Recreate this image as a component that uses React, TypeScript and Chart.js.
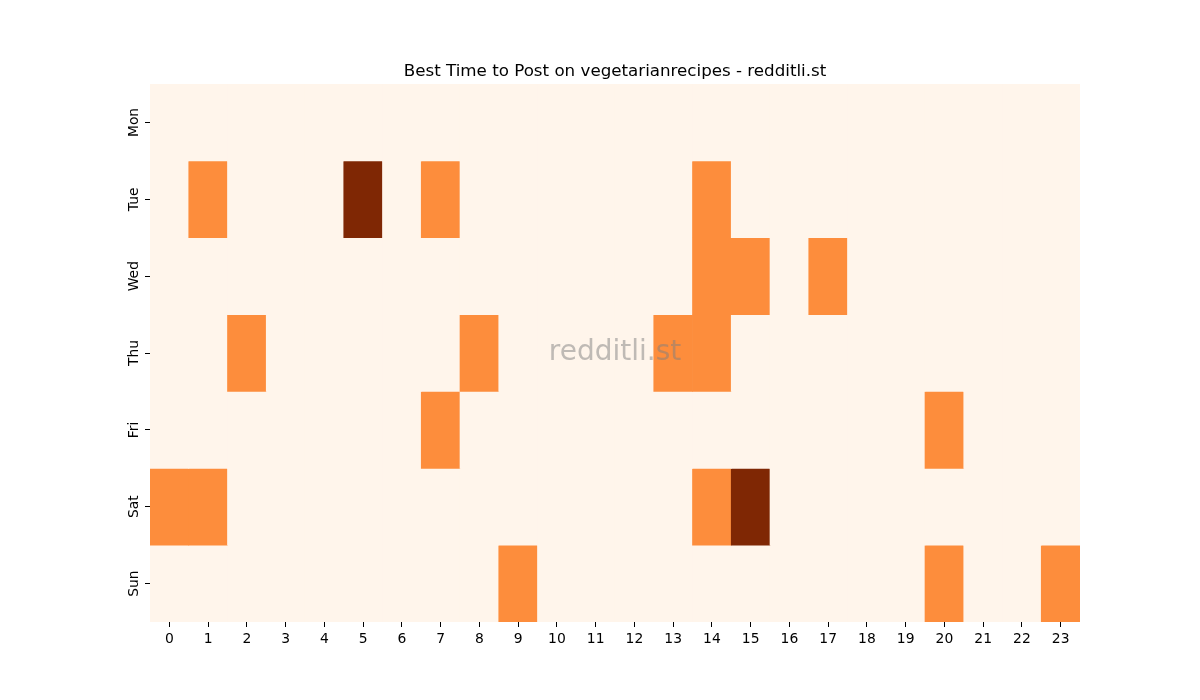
import React, { useEffect, useRef } from "react";
import { Chart, registerables } from "chart.js";

Chart.register(...registerables);

const hours = ["0","1","2","3","4","5","6","7","8","9","10","11","12","13","14","15","16","17","18","19","20","21","22","23"];
const days = ["Mon", "Tue", "Wed", "Thu", "Fri", "Sat", "Sun"];

const mon = [0,0,0,0,0,0,0,0,0,0,0,0,0,0,0,0,0,0,0,0,0,0,0,0];
const tue = [0,1,0,0,0,2,0,1,0,0,0,0,0,0,1,0,0,0,0,0,0,0,0,0];
const wed = [0,0,0,0,0,0,0,0,0,0,0,0,0,0,1,1,0,1,0,0,0,0,0,0];
const thu = [0,0,1,0,0,0,0,0,1,0,0,0,0,1,1,0,0,0,0,0,0,0,0,0];
const fri = [0,0,0,0,0,0,0,1,0,0,0,0,0,0,0,0,0,0,0,0,1,0,0,0];
const sat = [1,1,0,0,0,0,0,0,0,0,0,0,0,0,1,2,0,0,0,0,0,0,0,0];
const sun = [0,0,0,0,0,0,0,0,0,1,0,0,0,0,0,0,0,0,0,0,1,0,0,1];

const dayValues = [mon, tue, wed, thu, fri, sat, sun];
const palette = ["#fff5eb", "#fd8d3c", "#7f2704"];

const FONT = "'DejaVu Sans', sans-serif";

const watermark = {
  id: "watermark",
  afterDatasetsDraw(chart: any) {
    const { ctx, chartArea } = chart;
    ctx.save();
    ctx.font = `28px ${FONT}`;
    ctx.fillStyle = "rgba(128,128,128,0.5)";
    ctx.textAlign = "center";
    ctx.textBaseline = "middle";
    ctx.fillText("redditli.st", (chartArea.left + chartArea.right) / 2, (chartArea.top + chartArea.bottom) / 2);
    ctx.restore();
  },
};

export default function App() {
  const ref = useRef<HTMLCanvasElement>(null);
  useEffect(() => {
    const datasets = days.map((d, i) => ({
      label: d,
      data: hours.map(() => 1),
      backgroundColor: (c: any) => palette[dayValues[i][c.dataIndex]],
      borderWidth: 0,
      categoryPercentage: 1,
      barPercentage: 1,
    }));
    const chart = new Chart(ref.current!, {
      type: "bar",
      data: { labels: hours, datasets },
      options: {
        animation: false,
        responsive: false,
        maintainAspectRatio: false,
        layout: { padding: { left: 30, right: 0, top: 0, bottom: 0 } },
        plugins: {
          legend: { display: false },
          tooltip: { enabled: false },
          title: {
            display: true,
            text: "Best Time to Post on vegetarianrecipes - redditli.st",
            color: "#000",
            font: { family: FONT, size: 16.7, weight: "normal" },
            padding: { top: 62, bottom: 2 },
          },
        },
        scales: {
          x: {
            stacked: true,
            grid: { offset: false, drawOnChartArea: false, drawTicks: true, tickLength: 5, color: "#000" },
            border: { display: false },
            ticks: { color: "#000", font: { family: FONT, size: 13.9 }, padding: 4, maxRotation: 0, autoSkip: false },
            afterFit: (s: any) => { s.height = 78; },
          },
          y: {
            type: "linear",
            stacked: true,
            min: 0,
            max: 7,
            reverse: true,
            grid: { drawOnChartArea: false, drawTicks: true, tickLength: 5, color: "#000" },
            border: { display: false },
            afterBuildTicks: (axis: any) => {
              axis.ticks = days.map((_, i) => ({ value: i + 0.5 }));
            },
            ticks: {
              color: "#000",
              font: { family: FONT, size: 13.9 },
              padding: -4.5,
              crossAlign: "center",
              minRotation: 90,
              maxRotation: 90,
              autoSkip: false,
              callback: (v: any) => days[Math.floor(Number(v))],
            },
            afterFit: (s: any) => { s.width = 120; },
          },
          yRight: {
            type: "linear",
            position: "right",
            display: true,
            grid: { display: false, drawTicks: false },
            border: { display: false },
            ticks: { display: false },
            afterFit: (s: any) => { s.width = 120; },
          },
        },
      },
      plugins: [watermark],
    });
    return () => chart.destroy();
  }, []);
  return (
    <div style={{ position: "fixed", left: 0, top: 0, width: 1200, height: 700, background: "#fff" }}>
      <canvas ref={ref} width={1200} height={700} style={{ width: 1200, height: 700 }} />
    </div>
  );
}
